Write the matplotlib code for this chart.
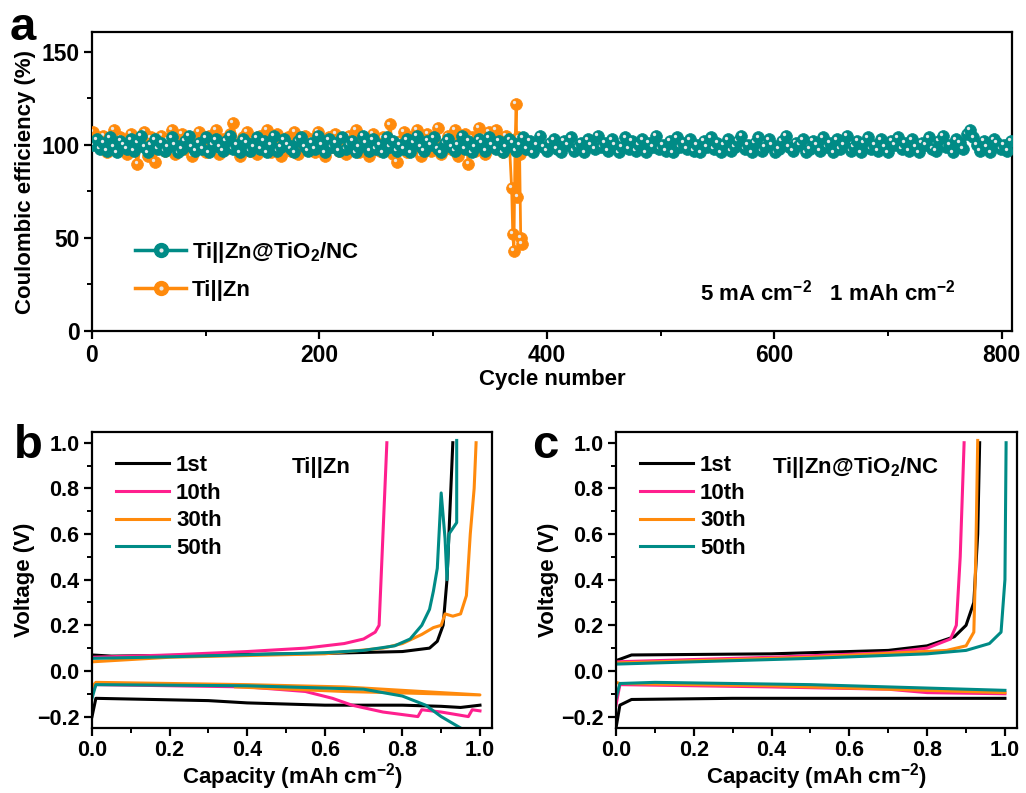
import matplotlib
matplotlib.use("Agg")
import matplotlib.pyplot as plt
import matplotlib.transforms as mtransforms
from matplotlib.lines import Line2D
from matplotlib.ticker import MultipleLocator
import numpy as np

plt.rcParams["font.family"] = ["Liberation Sans", "DejaVu Sans"]
plt.rcParams["font.weight"] = "bold"
plt.rcParams["mathtext.fontset"] = "custom"
plt.rcParams["mathtext.rm"] = "Liberation Sans:bold"
plt.rcParams["mathtext.bf"] = "Liberation Sans:bold"
plt.rcParams["mathtext.default"] = "bf"

TEAL = "#008b86"
ORANGE = "#ff8a0c"
PINK = "#ff1f8e"
BLACK = "#000000"

# ---- panel a: coulombic efficiency (read every 3 cycles) ----
cycles_nc = np.arange(1, 809, 3)
ce_nc = [
    100, 103, 98, 101, 97, 104, 99, 96, 102, 100, 98, 103, 97, 101, 105, 99, 96, 100, 103, 98, 101, 97, 99, 104, 100, 96, 98, 102, 105, 99,
    97, 101, 98, 104, 96, 100, 103, 99, 97, 102, 105, 98, 100, 96, 103, 101, 97, 99, 104, 98, 102, 96, 100, 105, 97, 99, 103, 100, 98, 96,
    102, 104, 99, 97, 101, 98, 105, 100, 96, 103, 99, 101, 97, 104, 98, 100, 102, 96, 99, 105, 101, 97, 103, 98, 100, 96, 104, 99, 102, 97,
    100, 98, 103, 96, 101, 105, 99, 97, 102, 100, 104, 98, 96, 101, 103, 99, 97, 100, 105, 98, 102, 96, 99, 103, 101, 97, 104, 100, 98, 102,
    96, 99, 103, 101, 97, 100, 104, 98, 102, 96, 100, 105, 99, 97, 101, 103, 98, 96, 102, 100, 104, 97, 99, 101, 96, 103, 100, 98, 105, 99,
    101, 97, 103, 100, 96, 99, 104, 98, 102, 97, 100, 103, 96, 101, 99, 105, 98, 100, 97, 102, 96, 104, 99, 101, 98, 103, 97, 100, 96, 102,
    99, 104, 98, 101, 96, 100, 103, 97, 99, 102, 105, 98, 100, 96, 101, 104, 97, 99, 103, 100, 96, 98, 102, 105, 99, 97, 101, 100, 103, 96,
    98, 102, 100, 97, 104, 99, 101, 96, 103, 98, 100, 105, 97, 99, 102, 96, 101, 104, 98, 100, 97, 103, 99, 96, 102, 100, 104, 98, 101, 97,
    103, 99, 96, 101, 100, 104, 98, 97, 102, 105, 99, 100, 96, 103, 101, 98, 106, 108, 104, 100, 97, 102, 99, 96, 103, 101, 98, 100, 97, 102,
]
cycles_zn = list(range(1, 368, 3)) + [369, 370, 371, 372, 373, 374, 375, 376, 377, 378]
ce_zn = [
    107, 103, 99, 105, 96, 101, 108, 97, 104, 100, 95, 106, 98, 90, 102, 107, 94, 104, 91, 99, 105, 97, 103, 108, 95, 100, 106, 98, 102, 94,
    104, 107, 99, 96, 105, 101, 108, 95, 103, 98, 106, 112, 100, 94, 104, 107, 97, 101, 95, 105, 99, 108, 96, 102, 106, 94, 100, 104, 97, 107,
    95, 101, 105, 98, 103, 96, 107, 100, 94, 104, 99, 106, 97, 102, 95, 105, 100, 108, 96, 103, 98, 94, 106, 101, 97, 104, 99, 111, 95, 91,
    102, 107, 96, 104, 99, 108, 94, 101, 106, 97, 103, 109, 95, 100, 105, 98, 108, 94, 102, 106, 90, 104, 97, 109, 101, 95, 107, 99, 108, 103,
    96, 105, 101,
    77, 52, 43, 100, 122, 72, 104, 95, 50, 47,
]

# ---- panel b: Ti||Zn voltage profiles (charge / discharge) ----
curve_labels = ["1st", "10th", "30th", "50th"]
curve_colors = [BLACK, PINK, ORANGE, TEAL]
b_charge_x = [
    [0, 0.05, 0.3, 0.6, 0.8, 0.87, 0.89, 0.905, 0.915, 0.92, 0.925, 0.93],
    [0, 0.2, 0.4, 0.55, 0.65, 0.7, 0.73, 0.74, 0.745, 0.75, 0.755, 0.76],
    [0, 0.2, 0.6, 0.75, 0.8, 0.85, 0.88, 0.9, 0.91, 0.93, 0.95, 0.965, 0.975, 0.985, 0.99],
    [0, 0.2, 0.6, 0.7, 0.78, 0.82, 0.85, 0.87, 0.88, 0.89, 0.9, 0.91, 0.915, 0.92, 0.94, 0.94],
]
b_charge_v = [
    [0.07, 0.065, 0.07, 0.077, 0.085, 0.1, 0.13, 0.2, 0.4, 0.6, 0.8, 1.0],
    [0.06, 0.07, 0.085, 0.1, 0.12, 0.14, 0.17, 0.2, 0.4, 0.6, 0.8, 1.0],
    [0.04, 0.06, 0.075, 0.1, 0.12, 0.16, 0.19, 0.2, 0.25, 0.24, 0.25, 0.33, 0.6, 0.8, 1.0],
    [0.055, 0.062, 0.08, 0.09, 0.11, 0.14, 0.2, 0.27, 0.35, 0.45, 0.78, 0.58, 0.4, 0.6, 0.65, 1.01],
]
b_dis_x = [
    [0, 0.01, 0.3, 0.4, 0.6, 0.8, 0.9, 0.95, 1.0],
    [0, 0.01, 0.4, 0.55, 0.62, 0.67, 0.75, 0.84, 0.85, 0.9, 0.97, 0.98, 1.0],
    [0, 0.01, 0.4, 0.65, 1.0, 0.65, 0.37],
    [0, 0.01, 0.4, 0.7, 0.8, 0.86, 0.9, 0.95, 1.0],
]
b_dis_v = [
    [-0.2, -0.12, -0.13, -0.14, -0.15, -0.15, -0.155, -0.16, -0.15],
    [-0.1, -0.06, -0.07, -0.09, -0.12, -0.15, -0.18, -0.2, -0.17, -0.18, -0.2, -0.17, -0.175],
    [-0.07, -0.05, -0.06, -0.07, -0.105, -0.09, -0.07],
    [-0.12, -0.06, -0.065, -0.08, -0.11, -0.15, -0.2, -0.25, -0.3],
]

# ---- panel c: Ti||Zn@TiO2/NC voltage profiles ----
c_charge_x = [
    [0, 0.04, 0.4, 0.7, 0.8, 0.87, 0.9, 0.92, 0.93, 0.935],
    [0, 0.4, 0.7, 0.8, 0.86, 0.875, 0.885, 0.895],
    [0, 0.5, 0.85, 0.9, 0.92, 0.925, 0.93],
    [0, 0.5, 0.8, 0.9, 0.96, 0.99, 1.0, 1.003],
]
c_charge_v = [
    [0.045, 0.07, 0.075, 0.09, 0.11, 0.15, 0.2, 0.3, 0.6, 1.0],
    [0.04, 0.06, 0.08, 0.1, 0.14, 0.2, 0.5, 1.0],
    [0.035, 0.06, 0.09, 0.11, 0.17, 0.5, 1.01],
    [0.03, 0.055, 0.075, 0.09, 0.12, 0.17, 0.4, 1.0],
]
c_dis_x = [
    [0, 0.01, 0.04, 0.3, 1.0],
    [0, 0.01, 0.4, 0.7, 0.8, 1.0],
    [0, 0.01, 0.4, 1.0],
    [0, 0.01, 0.1, 0.5, 0.8, 1.0],
]
c_dis_v = [
    [-0.25, -0.15, -0.125, -0.12, -0.12],
    [-0.15, -0.06, -0.07, -0.08, -0.095, -0.1],
    [-0.05, -0.055, -0.065, -0.095],
    [-0.12, -0.055, -0.05, -0.06, -0.075, -0.085],
]

fig = plt.figure(figsize=(10.26, 7.93), dpi=100)
W, H = 1026, 793


def px_axes(l, t, r, b):
    return fig.add_axes([l / W, 1 - b / H, (r - l) / W, (b - t) / H])


def style(ax, size):
    for s in ax.spines.values():
        s.set_linewidth(1.6)
    ax.tick_params(which="major", direction="out", length=6, width=1.6, labelsize=size, pad=3)
    ax.tick_params(which="minor", direction="out", length=3.5, width=1.4)
    for lab in ax.get_xticklabels() + ax.get_yticklabels():
        lab.set_fontweight("bold")


# panel a
ax = px_axes(92, 32, 1012, 331)
hl_tr = mtransforms.offset_copy(ax.transData, fig=fig, x=-1.3, y=1.3, units="points")
for xs, ys, col in [(cycles_zn, ce_zn, ORANGE), (cycles_nc, ce_nc, TEAL)]:
    ax.plot(xs, ys, "-", color=col, lw=2, zorder=2)
    # one sphere at a time so that later spheres cover earlier highlights
    for x, y in zip(xs, ys):
        ax.plot([x], [y], "o", color=col, ms=8.5, mec=col, mew=0.5, zorder=3)
        ax.plot([x], [y], "o", color="#e8e8e8", ms=2.4, mew=0, transform=hl_tr, zorder=3)

leg_h = [
    (Line2D([], [], color=TEAL, lw=2.5, marker="o", ms=10, mec=TEAL),
     Line2D([], [], ls="none", marker="o", ms=3, color="#e8e8e8", mew=0)),
    (Line2D([], [], color=ORANGE, lw=2.5, marker="o", ms=10, mec=ORANGE),
     Line2D([], [], ls="none", marker="o", ms=3, color="#e8e8e8", mew=0)),
]
ax.legend(leg_h, ["Ti||Zn@TiO$_2$/NC", "Ti||Zn"], loc="lower left",
          bbox_to_anchor=(0.025, 0.035), frameon=False, handlelength=2.3,
          prop={"size": 16, "weight": "bold"}, labelspacing=0.65, handletextpad=0.25)
ax.text(0.661, 0.13, "5 mA cm$^{-2}$   1 mAh cm$^{-2}$", transform=ax.transAxes,
        fontsize=16, fontweight="bold", va="center")
ax.set_xlim(0, 809)
ax.set_ylim(0, 160.7)
ax.xaxis.set_major_locator(MultipleLocator(200))
ax.xaxis.set_minor_locator(MultipleLocator(100))
ax.yaxis.set_major_locator(MultipleLocator(50))
ax.yaxis.set_minor_locator(MultipleLocator(25))
ax.set_xlabel("Cycle number", fontsize=16, fontweight="bold", labelpad=2)
ax.set_ylabel("Coulombic efficiency (%)", fontsize=16, fontweight="bold", labelpad=4)
style(ax, 16.5)
fig.text(10 / W, 1 - 40 / H, "a", fontsize=34, fontweight="bold")


def voltage_panel(ax, chx, chv, dsx, dsv, title, title_x):
    for i in range(4):
        ax.plot(dsx[i], dsv[i], color=curve_colors[i], lw=2.2)
    for i in range(4):
        ax.plot(chx[i], chv[i], color=curve_colors[i], lw=2.2, label=curve_labels[i])
    ax.set_xlim(0, 1.031)
    ax.set_ylim(-0.25, 1.047)
    ax.xaxis.set_major_locator(MultipleLocator(0.2))
    ax.xaxis.set_minor_locator(MultipleLocator(0.1))
    ax.yaxis.set_major_locator(MultipleLocator(0.2))
    ax.yaxis.set_minor_locator(MultipleLocator(0.1))
    ax.set_xlabel("Capacity (mAh cm$^{-2}$)", fontsize=16, fontweight="bold", labelpad=0)
    ax.set_ylabel("Voltage (V)", fontsize=16, fontweight="bold", labelpad=1)
    ax.legend(loc="upper left", bbox_to_anchor=(0.01, 0.99), frameon=False,
              handlelength=2.4, prop={"size": 16, "weight": "bold"},
              labelspacing=0.3, handletextpad=0.3)
    ax.text(title_x, 0.88, title, transform=ax.transAxes, fontsize=16,
            fontweight="bold", va="center")
    style(ax, 15.5)


axb = px_axes(92, 432, 492, 728)
voltage_panel(axb, b_charge_x, b_charge_v, b_dis_x, b_dis_v, "Ti||Zn", 0.5)
fig.text(14 / W, 1 - 458 / H, "b", fontsize=34, fontweight="bold")

axc = px_axes(616, 432, 1017, 728)
voltage_panel(axc, c_charge_x, c_charge_v, c_dis_x, c_dis_v, "Ti||Zn@TiO$_2$/NC", 0.39)
fig.text(532 / W, 1 - 458 / H, "c", fontsize=34, fontweight="bold")

fig.savefig("out.png", dpi=100)
